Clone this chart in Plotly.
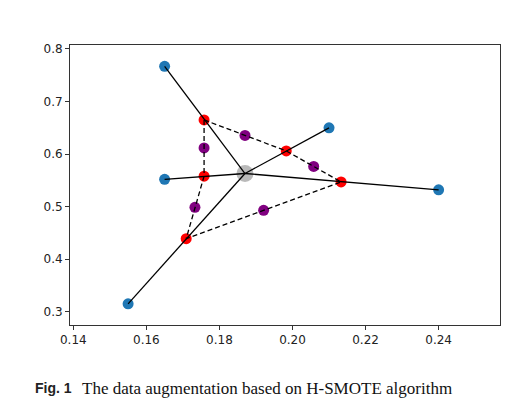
import plotly.graph_objects as go

# original samples (blue)
orig_x = [0.165, 0.165, 0.210, 0.240, 0.155]
orig_y = [0.767, 0.552, 0.650, 0.532, 0.315]

# centre of the samples (gray)
center_x = [0.187]
center_y = [0.563]

# first round synthetic points (red), on the lines to the centre
red_x = [0.1758, 0.1758, 0.1983, 0.2133, 0.1709]
red_y = [0.665, 0.558, 0.606, 0.547, 0.439]

# second round synthetic points (purple), between the red ones
purple_x = [0.1870, 0.1758, 0.2058, 0.1733, 0.1921]
purple_y = [0.6355, 0.6118, 0.5765, 0.4987, 0.4930]

# order of the red points round the dashed polygon
ring = [0, 2, 3, 4, 1, 0]

x_ticks = [0.14, 0.16, 0.18, 0.20, 0.22, 0.24]
y_ticks = [0.3, 0.4, 0.5, 0.6, 0.7, 0.8]

caption_bold = "Fig. 1"
caption_text = "The data augmentation based on H-SMOTE algorithm"

# solid lines from every sample to the centre
lx, ly = [], []
for x, y in zip(orig_x, orig_y):
    lx += [x, center_x[0], None]
    ly += [y, center_y[0], None]

fig = go.Figure()

fig.add_trace(go.Scatter(x=orig_x, y=orig_y, mode='markers',
                         marker=dict(color='#1f77b4', size=11)))
fig.add_trace(go.Scatter(x=center_x, y=center_y, mode='markers',
                         marker=dict(color='rgba(128,128,128,0.55)', size=17)))
fig.add_trace(go.Scatter(x=red_x, y=red_y, mode='markers',
                         marker=dict(color='red', size=11)))
fig.add_trace(go.Scatter(x=purple_x, y=purple_y, mode='markers',
                         marker=dict(color='purple', size=11)))
fig.add_trace(go.Scatter(x=lx, y=ly, mode='lines',
                         line=dict(color='black', width=1.3)))
fig.add_trace(go.Scatter(x=[red_x[i] for i in ring], y=[red_y[i] for i in ring],
                         mode='lines',
                         line=dict(color='black', width=1.3, dash='5px,3px')))

axis = dict(showgrid=False, zeroline=False, showline=True, mirror=True,
            linecolor='#333333', linewidth=1, ticks='outside', ticklen=4,
            tickcolor='#333333', tickfont=dict(family='DejaVu Sans', size=12, color='#222222'))

fig.update_xaxes(range=[0.1391, 0.2568], tickvals=x_ticks,
                 ticktext=['%.2f' % v for v in x_ticks], **axis)
fig.update_yaxes(range=[0.2747, 0.8076], tickvals=y_ticks,
                 ticktext=['%.1f' % v for v in y_ticks], **axis)

fig.add_annotation(xref='paper', yref='paper', x=-0.087, y=-0.225,
                   xanchor='left', yanchor='middle', showarrow=False,
                   text='<b>' + caption_bold + '</b>',
                   font=dict(family='Liberation Sans', size=14, color='#222222'))
fig.add_annotation(xref='paper', yref='paper', x=0.024, y=-0.225,
                   xanchor='left', yanchor='middle', showarrow=False,
                   text=caption_text,
                   font=dict(family='Liberation Serif', size=17, color='#111111'))

# the page has an 8px body margin, so the figure is made 8px smaller
fig.update_layout(width=507, height=402, showlegend=False,
                  margin=dict(l=62, r=15, t=37, b=85),
                  plot_bgcolor='white', paper_bgcolor='white')

fig.write_html("out.html")
